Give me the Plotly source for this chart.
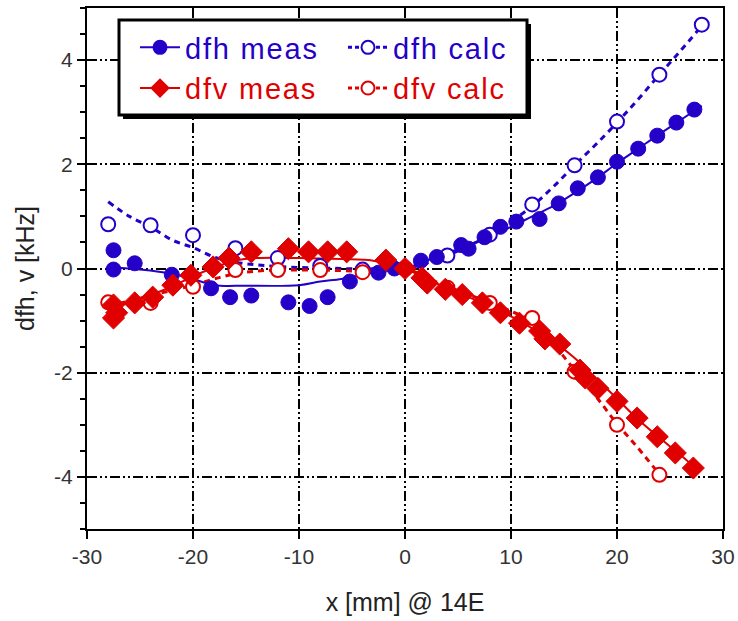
import plotly.graph_objects as go

# ---------------- data ----------------
# dfh measured (filled blue circles)
dfh_meas_x = [-27.5, -27.5, -25.5, -22.0, -18.3, -16.5, -14.5, -11.0, -9.0, -7.3, -5.2, -2.5, -1.0,
              1.5, 3.0, 5.3, 6.0, 7.5, 9.0, 10.5, 12.7, 14.5, 16.3, 18.2, 20.0, 22.0, 23.8, 25.6, 27.3]
dfh_meas_y = [0.35, -0.02, 0.10, -0.12, -0.38, -0.55, -0.52, -0.65, -0.72, -0.55, -0.25, -0.08, 0.0,
              0.15, 0.22, 0.45, 0.38, 0.60, 0.80, 0.90, 0.95, 1.25, 1.54, 1.75, 2.05, 2.30, 2.55, 2.80, 3.05]
# dfh measured fit (solid blue line)
dfh_fit_x = [-27.5, -25, -22, -20, -18, -15, -10, -8, -6, -4, -2, 0, 2, 4, 6, 8, 10, 12, 14, 16, 18, 20, 22, 24, 26, 28]
dfh_fit_y = [0.02, -0.02, -0.10, -0.20, -0.32, -0.33, -0.32, -0.25, -0.20, -0.12, -0.05, 0.0, 0.15, 0.30, 0.45,
             0.62, 0.80, 1.00, 1.20, 1.45, 1.72, 2.02, 2.30, 2.58, 2.85, 3.12]
# dfh calculated (open blue circles)
dfh_calc_x = [-28, -24, -20, -16, -12, -8, -4, 0, 4, 8, 12, 16, 20, 24, 28]
dfh_calc_y = [0.85, 0.83, 0.64, 0.39, 0.20, 0.05, -0.02, 0.0, 0.25, 0.65, 1.23, 1.98, 2.82, 3.72, 4.68]
# dfh calculated curve (dashed blue line)
dfh_curve_x = [-28, -26, -24, -22, -20, -18, -16, -14, -12, -10, -8, -6, -4, -2, 0,
               2, 4, 6, 8, 10, 12, 14, 16, 18, 20, 22, 24, 26, 28]
dfh_curve_y = [1.28, 1.00, 0.80, 0.55, 0.40, 0.22, 0.12, 0.07, 0.04, 0.02, 0.01, 0.0, -0.01, 0.0, 0.0,
               0.10, 0.25, 0.43, 0.64, 0.90, 1.20, 1.57, 1.98, 2.38, 2.80, 3.25, 3.72, 4.18, 4.66]

# dfv measured (filled red diamonds)
dfv_meas_x = [-27.5, -27.5, -27.2, -25.5, -23.8, -21.9, -20.2, -18.1, -16.6, -14.5, -11.0, -9.1, -7.3, -5.5, -1.8,
              0.0, 1.6, 2.1, 3.8, 5.4, 7.3, 9.0, 10.8, 12.7, 13.2, 14.6, 16.5, 17.0, 18.2, 20.0, 21.9, 23.8, 25.5, 27.2]
dfv_meas_y = [-0.70, -0.95, -0.85, -0.66, -0.55, -0.32, -0.13, 0.03, 0.20, 0.32, 0.38, 0.32, 0.32, 0.32, 0.16,
              0.0, -0.18, -0.28, -0.40, -0.50, -0.66, -0.85, -1.05, -1.20, -1.35, -1.45, -1.95, -2.10, -2.30, -2.55,
              -2.87, -3.23, -3.54, -3.83]
# dfv measured fit (solid red line)
dfv_fit_x = [-27.5, -25, -22, -20, -18, -16, -14, -10, -6, -3, 0, 2, 4, 6, 8, 10, 12, 14, 16, 18, 20, 22, 24, 26, 27.5]
dfv_fit_y = [-0.75, -0.58, -0.35, -0.15, 0.02, 0.15, 0.20, 0.20, 0.18, 0.15, 0.0, -0.20, -0.38, -0.55, -0.72,
             -0.92, -1.15, -1.40, -1.72, -2.10, -2.50, -2.90, -3.25, -3.58, -3.85]
# dfv calculated (open red circles)
dfv_calc_x = [-28, -24, -20, -16, -12, -8, -4, 0, 4, 8, 12, 16, 20, 24]
dfv_calc_y = [-0.65, -0.66, -0.35, -0.03, -0.03, -0.03, -0.07, 0.0, -0.37, -0.66, -0.95, -1.98, -3.00, -3.96]
# dfv calculated curve (dashed red line)
dfv_curve_x = [-28, -26, -24, -22, -20, -18, -16, -14, -12, -10, -8, -6, -4, -2, 0,
               2, 4, 6, 8, 10, 12, 14, 16, 18, 20, 22, 24]
dfv_curve_y = [-0.72, -0.62, -0.52, -0.42, -0.32, -0.20, -0.10, -0.05, -0.03, -0.03, -0.03, -0.04, -0.05, -0.03, 0.0,
               -0.17, -0.35, -0.50, -0.66, -0.82, -1.02, -1.45, -1.95, -2.45, -2.98, -3.45, -3.95]

x_ticks = [-30, -20, -10, 0, 10, 20, 30]
y_ticks = [-4, -2, 0, 2, 4]

BLUE = "#2400c8"
RED = "#e00000"
FONT = "Liberation Sans, Arial, sans-serif"

fig = go.Figure()

# curves
fig.add_trace(go.Scatter(x=dfh_curve_x, y=dfh_curve_y, mode="lines", showlegend=False,
                         line=dict(color=BLUE, width=3, dash="6px,5px", shape="spline")))
fig.add_trace(go.Scatter(x=dfv_curve_x, y=dfv_curve_y, mode="lines", showlegend=False,
                         line=dict(color=RED, width=3, dash="6px,5px", shape="spline")))
fig.add_trace(go.Scatter(x=dfh_fit_x, y=dfh_fit_y, mode="lines", showlegend=False,
                         line=dict(color=BLUE, width=2, shape="spline")))
fig.add_trace(go.Scatter(x=dfv_fit_x, y=dfv_fit_y, mode="lines", showlegend=False,
                         line=dict(color=RED, width=2, shape="spline")))
# markers
fig.add_trace(go.Scatter(x=dfh_calc_x, y=dfh_calc_y, mode="markers", showlegend=False,
                         marker=dict(symbol="circle", size=14, color="white", line=dict(color=BLUE, width=2))))
fig.add_trace(go.Scatter(x=dfv_calc_x, y=dfv_calc_y, mode="markers", showlegend=False,
                         marker=dict(symbol="circle", size=14, color="white", line=dict(color=RED, width=2))))
fig.add_trace(go.Scatter(x=dfh_meas_x, y=dfh_meas_y, mode="markers", showlegend=False,
                         marker=dict(symbol="circle", size=15, color=BLUE, line=dict(color=BLUE, width=1))))
fig.add_trace(go.Scatter(x=dfv_meas_x, y=dfv_meas_y, mode="markers", showlegend=False,
                         marker=dict(symbol="diamond", size=17, color=RED, line=dict(color=RED, width=1))))

# legend entries
def leg(name, color, dash, fill, sym, legend):
    return go.Scatter(x=[None], y=[None], mode="lines+markers", legend=legend,
                      name=f"<span style='color:{color};letter-spacing:1.8px'>{name}</span>",
                      line=dict(color=color, width=2 if dash == "solid" else 3, dash=dash),
                      marker=dict(symbol=sym, size=13, color=fill, line=dict(color=color, width=2)))

fig.add_trace(leg("dfh meas", BLUE, "solid", BLUE, "circle", "legend"))
fig.add_trace(leg("dfv meas", RED, "solid", RED, "diamond", "legend"))
fig.add_trace(leg("dfh calc", BLUE, "4px,3px", "white", "circle", "legend2"))
fig.add_trace(leg("dfv calc", RED, "4px,3px", "white", "circle", "legend2"))

L, R, T, B = 87, 15, 8, 92
W, H = 738, 621
pw, ph = W - L - R, H - T - B

def px(x):
    return (x - L) / pw

def py(y):
    return (H - B - y) / ph

shapes = [
    dict(type="rect", xref="paper", yref="paper", layer="above",
         x0=px(123), x1=px(531), y0=py(119), y1=py(24),
         fillcolor="black", line=dict(width=0)),
    dict(type="rect", xref="paper", yref="paper", layer="above",
         x0=px(119), x1=px(527), y0=py(115), y1=py(20),
         fillcolor="white", line=dict(color="black", width=3)),
]

legfont = dict(family=FONT, size=29)
fig.update_layout(
    width=W, height=H,
    margin=dict(l=L, r=R, t=T, b=B, autoexpand=False),
    paper_bgcolor="white", plot_bgcolor="white",
    font=dict(family=FONT, size=21, color="#222"),
    shapes=shapes,
    legend=dict(x=px(135), y=py(22), xanchor="left", yanchor="top", bgcolor="rgba(0,0,0,0)",
                font=legfont, tracegroupgap=0, itemwidth=40),
    legend2=dict(x=px(343), y=py(22), xanchor="left", yanchor="top", bgcolor="rgba(0,0,0,0)",
                 font=legfont, tracegroupgap=0, itemwidth=40),
    xaxis=dict(range=[-30, 30], tickvals=x_ticks, ticktext=[str(v) for v in x_ticks], automargin=False,
               showgrid=True, gridcolor="black", gridwidth=1.5, griddash="10px,3px,2px,3px,2px,3px",
               showline=True, linecolor="black", linewidth=2, mirror=True,
               ticks="outside", ticklen=8, tickwidth=2, tickcolor="black", zeroline=False,
               title=dict(text="x [mm] @ 14E", standoff=26), tickfont=dict(size=21, color="#333")),
    yaxis=dict(range=[-5, 5], tickvals=y_ticks, ticktext=[str(v) for v in y_ticks], automargin=False,
               showgrid=True, gridcolor="black", gridwidth=1.5, griddash="10px,3px,2px,3px,2px,3px",
               showline=True, linecolor="black", linewidth=2, mirror=True,
               ticks="outside", ticklen=8, tickwidth=2, tickcolor="black", zeroline=False,
               minor=dict(dtick=0.5, ticks="outside", ticklen=5, tickwidth=1.5, tickcolor="black", showgrid=False),
               title=dict(text="dfh, v [kHz]", standoff=12), tickfont=dict(size=21, color="#333")),
)

fig.write_html("out.html", post_script="document.body.style.margin='0px';",
               config={"displayModeBar": False})
